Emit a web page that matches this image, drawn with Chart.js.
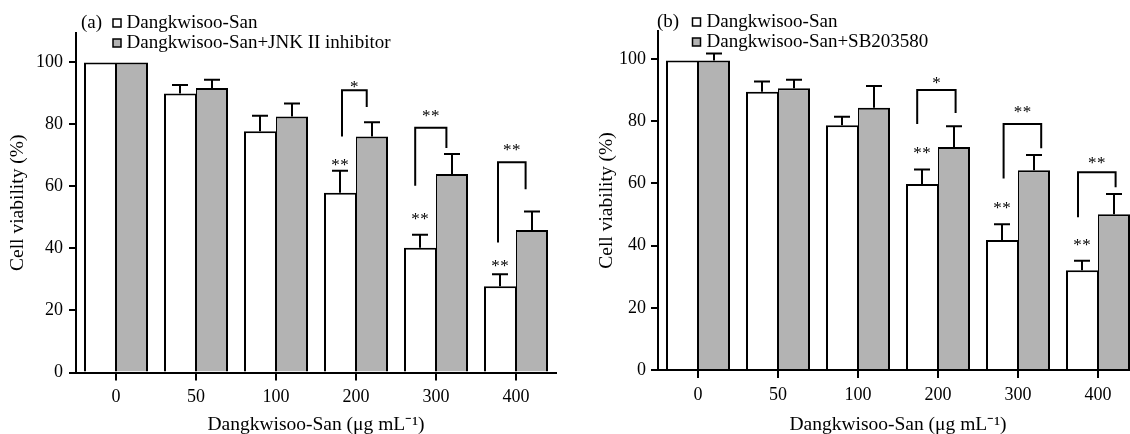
<!DOCTYPE html>
<html><head><meta charset="utf-8">
<script src="https://cdn.jsdelivr.net/npm/chart.js@4/dist/chart.umd.min.js"></script>
<style>
html,body{margin:0;padding:0;background:#fff;overflow:hidden;width:1130px;height:434px;position:relative}
canvas{position:absolute;top:0}
#ca{left:0}
#cb{left:580px}
</style></head><body>
<canvas id="ca" width="566" height="434"></canvas>
<canvas id="cb" width="562" height="434"></canvas>
<script>
// ---- data ----
const categories = ['0', '50', '100', '200', '300', '400'];

// panel (a)
const aDks      = [100, 90.0, 77.8, 58.0, 40.2, 27.8];
const aDksErr   = [0,   2.7,  5.0,  7.1,  4.2,  3.9];
const aJnk      = [100, 91.8, 82.6, 76.1, 64.0, 46.0];
const aJnkErr   = [0,   2.6,  4.2,  4.6,  6.5,  5.9];
const aSeries   = ['Dangkwisoo-San', 'Dangkwisoo-San+JNK II inhibitor'];

// panel (b)
const bDks      = [99.5, 89.5, 78.7, 59.8, 41.8, 32.1];
const bDksErr   = [0,    3.3,  2.7,  4.7,  5.1,  3.0];
const bSb       = [99.5, 90.6, 84.3, 71.7, 64.2, 50.1];
const bSbErr    = [2.3,  2.7,  7.0,  6.7,  4.9,  6.5];
const bSeries   = ['Dangkwisoo-San', 'Dangkwisoo-San+SB203580'];

const yTicks = [0, 20, 40, 60, 80, 100];
const xTitle = 'Dangkwisoo-San (\u03bcg mL\u207b\u00b9)';
const yTitle = 'Cell viability (%)';

// significance marks over white bars: [category, value level, text]
const aStars = [[3, 68.0, '**'], [4, 50.6, '**'], [5, 35.4, '**']];
const bStars = [[3, 70.8, '**'], [4, 53.1, '**'], [5, 41.3, '**']];
// brackets: [category, left offset, right offset, top, left end, right end, text, text level]
const aBrackets = [
  [3, -0.175, 0.134, 91.0, 76.1, 85.6, '*', 93.2],
  [4, -0.26, 0.13, 78.9, 60.2, 72.4, '**', 83.7],
  [5, -0.225, 0.12, 67.8, 41.9, 59.1, '**', 72.7]
];
const bBrackets = [
  [3, -0.26, 0.22, 90.0, 79.1, 82.6, '*', 93.4],
  [4, -0.18, 0.29, 79.1, 61.6, 71.3, '**', 83.8],
  [5, -0.25, 0.22, 63.6, 49.1, 58.8, '**', 67.5]
];

const SERIF = "'Liberation Serif', 'Times New Roman', serif";

const errorBars = {
  id: 'errorBars',
  afterDatasetsDraw(chart) {
    const ctx = chart.ctx, y = chart.scales.y;
    chart.data.datasets.forEach((ds, di) => {
      const meta = chart.getDatasetMeta(di);
      meta.data.forEach((bar, i) => {
        const e = ds.errors[i];
        if (!e) return;
        const yb = y.getPixelForValue(ds.data[i]);
        const yt = y.getPixelForValue(ds.data[i] + e);
        ctx.save();
        ctx.strokeStyle = '#000';
        ctx.lineWidth = 2;
        ctx.beginPath();
        ctx.moveTo(bar.x, yb); ctx.lineTo(bar.x, yt);
        ctx.moveTo(bar.x - 8, yt); ctx.lineTo(bar.x + 8, yt);
        ctx.stroke();
        ctx.restore();
      });
    });
  }
};

const sigMarks = {
  id: 'sigMarks',
  afterDatasetsDraw(chart, args, opts) {
    const ctx = chart.ctx, x = chart.scales.x, y = chart.scales.y;
    const cw = x.getPixelForValue(1) - x.getPixelForValue(0);
    ctx.save();
    ctx.fillStyle = '#000';
    ctx.strokeStyle = '#000';
    ctx.font = '17px ' + SERIF;
    ctx.textAlign = 'center';
    ctx.textBaseline = 'alphabetic';
    const draw = (t, px, py) => {
      if (t.length === 2) {
        ctx.fillText('*', px - 4.5, py);
        ctx.fillText('*', px + 4.5, py);
      } else {
        ctx.fillText(t, px, py);
      }
    };
    (opts.stars || []).forEach(([c, v, t]) => {
      const px = x.getPixelForValue(c) - 0.2 * cw;
      draw(t, px, y.getPixelForValue(v) + 8);
    });
    ctx.lineWidth = 2;
    (opts.brackets || []).forEach(([c, l, r, top, le, re, t, tv]) => {
      const xc = x.getPixelForValue(c);
      const xl = xc + l * cw, xr = xc + r * cw;
      ctx.beginPath();
      ctx.moveTo(xl, y.getPixelForValue(le));
      ctx.lineTo(xl, y.getPixelForValue(top));
      ctx.lineTo(xr, y.getPixelForValue(top));
      ctx.lineTo(xr, y.getPixelForValue(re));
      ctx.stroke();
      draw(t, (xl + xr) / 2, y.getPixelForValue(tv) + 8);
    });
    ctx.restore();
  }
};

const legendText = {
  id: 'legendText',
  afterDraw(chart, args, o) {
    const ctx = chart.ctx;
    ctx.save();
    ctx.font = '19px ' + SERIF;
    ctx.fillStyle = '#000';
    ctx.textBaseline = 'middle';
    ctx.textAlign = 'left';
    ctx.fillText(o.tag, o.tagX, o.y1);
    const fills = ['#ffffff', '#b3b3b3'];
    [o.y1, o.y2].forEach((yy, i) => {
      ctx.fillStyle = fills[i];
      ctx.fillRect(o.boxX, yy - 4, 8, 8);
      ctx.strokeStyle = '#000';
      ctx.lineWidth = 1.5;
      ctx.strokeRect(o.boxX, yy - 4, 8, 8);
      ctx.fillStyle = '#000';
      ctx.fillText(o.names[i], o.textX, yy);
    });
    ctx.restore();
  }
};

function makeChart(id, c) {
  const tickFont = { family: SERIF, size: 18 };
  const titleFont = { family: SERIF, size: 19.5, lineHeight: 0.92 };
  return new Chart(document.getElementById(id), {
    type: 'bar',
    data: {
      labels: categories,
      datasets: [
        { data: c.white, errors: c.whiteErr, backgroundColor: '#ffffff', borderColor: '#000',
          borderWidth: { left: 2, top: 2, right: 1, bottom: 0 }, borderSkipped: false },
        { data: c.gray, errors: c.grayErr, backgroundColor: '#b3b3b3', borderColor: '#000',
          borderWidth: { left: 1, top: 2, right: 2, bottom: 0 }, borderSkipped: false }
      ]
    },
    options: {
      responsive: false, animation: false, devicePixelRatio: 1,
      layout: { padding: { top: c.padTop, right: c.padRight, left: 0, bottom: 0 } },
      datasets: { bar: { categoryPercentage: 0.8, barPercentage: 1.0 } },
      plugins: {
        legend: { display: false }, tooltip: { enabled: false },
        sigMarks: { stars: c.stars, brackets: c.brackets },
        legendText: c.legend
      },
      scales: {
        x: {
          offset: true,
          grid: { display: true, drawOnChartArea: false, drawTicks: true, tickLength: 8, color: '#000', lineWidth: 2, offset: false },
          border: { display: true, color: '#000', width: 2 },
          ticks: { color: '#000', font: tickFont, padding: 6, maxRotation: 0 },
          title: { display: true, text: xTitle, color: '#000', font: titleFont, padding: { top: 0, bottom: 0 } },
          afterFit: s => { s.height = c.xh; }
        },
        y: {
          min: 0, max: c.max,
          grid: { display: true, drawOnChartArea: false, drawTicks: true, tickLength: 7, color: '#000', lineWidth: 2 },
          border: { display: true, color: '#000', width: 2 },
          ticks: { color: '#000', font: tickFont, padding: c.yPad, stepSize: 20 },
          afterBuildTicks: s => { s.ticks = yTicks.map(v => ({ value: v })); },
          title: { display: true, text: yTitle, color: '#000', font: { family: SERIF, size: 19.5 }, padding: { top: c.yTitlePad, bottom: 0 } },
          afterFit: s => { s.width = c.yw; }
        }
      }
    },
    plugins: [errorBars, sigMarks, legendText]
  });
}

makeChart('ca', {
  white: aDks, whiteErr: aDksErr, gray: aJnk, grayErr: aJnkErr,
  max: 109.5, padTop: 33, padRight: 10, xh: 61.5, yw: 76, yPad: 6, yTitlePad: 6.6,
  stars: aStars, brackets: aBrackets,
  legend: { tag: '(a)', tagX: 81, boxX: 113, textX: 126.5, y1: 23, y2: 43, names: aSeries }
});
makeChart('cb', {
  white: bDks, whiteErr: bDksErr, gray: bSb, grayErr: bSbErr,
  max: 109, padTop: 31, padRight: 4, xh: 64, yw: 78, yPad: 5, yTitlePad: 14.8,
  stars: bStars, brackets: bBrackets,
  legend: { tag: '(b)', tagX: 77, boxX: 112.5, textX: 126.5, y1: 22, y2: 42, names: bSeries }
});
</script>
</body></html>
